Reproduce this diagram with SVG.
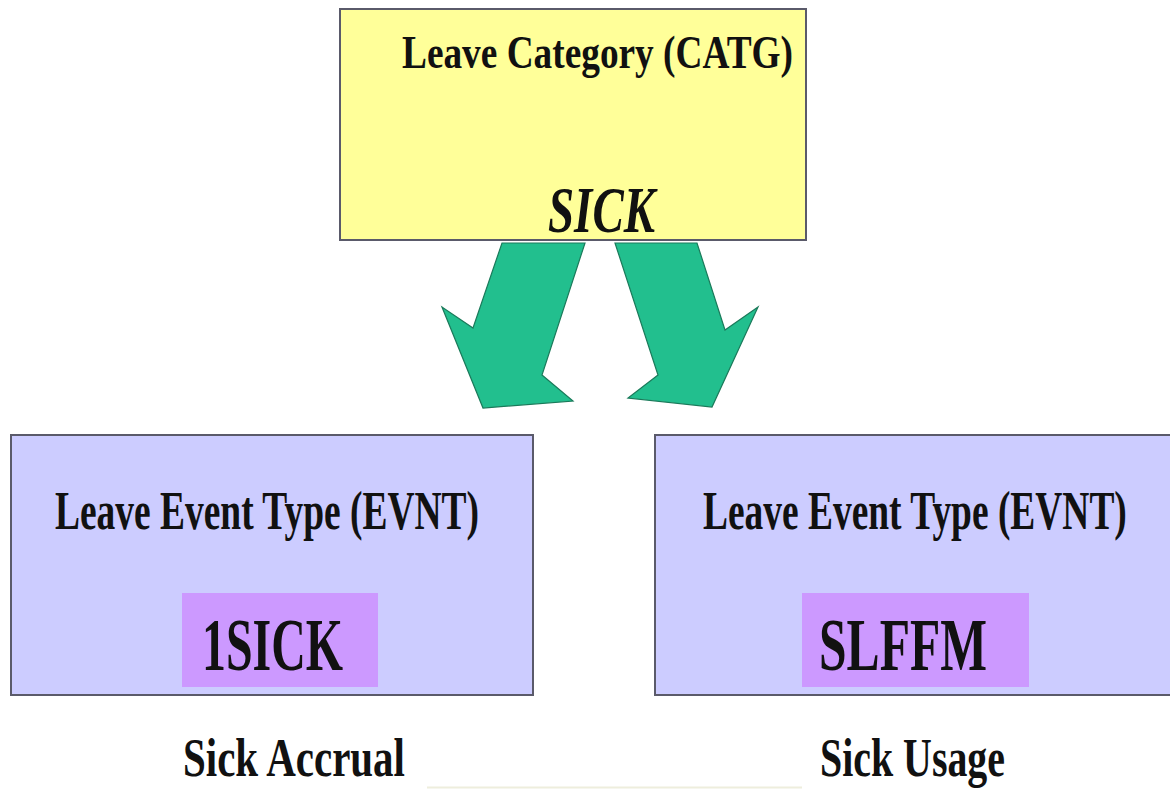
<svg xmlns="http://www.w3.org/2000/svg" width="1170" height="790" viewBox="0 0 1170 790">
  <style>
    .box { stroke: #5a5a6a; stroke-width: 2; }
    .t { font-family: "Liberation Serif", "Times New Roman", serif; font-weight: bold; fill: #111; }
    .arrow { fill: #22bf8e; stroke: #1a7a5a; stroke-width: 1.2; stroke-linejoin: miter; }
  </style>
  <rect width="1170" height="790" fill="#ffffff"/>
  <line x1="427" y1="787.5" x2="802" y2="787.5" stroke="#eeeedd" stroke-width="2"/>

  <g id="category">
    <rect class="box" x="340" y="9" width="466" height="231" fill="#ffff99"/>
    <text class="t" x="402" y="68" font-size="47" textLength="391" lengthAdjust="spacingAndGlyphs">Leave Category (CATG)</text>
    <text class="t" x="548" y="232" font-size="66" font-style="italic" textLength="107" lengthAdjust="spacingAndGlyphs">SICK</text>
  </g>

  <g id="connectors">
    <polygon class="arrow" points="502,243 585,243 542,375 573,401 483,408 442,307 473,328"/>
    <polygon class="arrow" points="615,243 697,243 725,330 758,307 712,407 628,398 658,375"/>
  </g>

  <g id="accrual">
    <rect class="box" x="11" y="435" width="522" height="260" fill="#ccccff"/>
    <text class="t" x="55" y="529" font-size="54" textLength="424" lengthAdjust="spacingAndGlyphs">Leave Event Type (EVNT)</text>
    <rect x="182" y="593" width="196" height="94" fill="#cc99ff"/>
    <text class="t" x="202" y="670" font-size="73" font-weight="normal" textLength="141" lengthAdjust="spacingAndGlyphs">1SICK</text>
  </g>

  <g id="usage">
    <rect class="box" x="655" y="435" width="516" height="260" fill="#ccccff"/>
    <text class="t" transform="translate(703,529) scale(0.688,1)" x="0" y="0" font-size="54" textLength="616" lengthAdjust="spacingAndGlyphs">Leave Event Type (EVNT)</text>
    <rect x="802" y="593" width="227" height="94" fill="#cc99ff"/>
    <text class="t" x="819" y="670" font-size="73" font-weight="normal" textLength="168" lengthAdjust="spacingAndGlyphs">SLFFM</text>
  </g>

  <g id="labels">
    <text class="t" x="183" y="776" font-size="54" textLength="222" lengthAdjust="spacingAndGlyphs">Sick Accrual</text>
    <text class="t" x="820" y="776" font-size="54" textLength="185" lengthAdjust="spacingAndGlyphs">Sick Usage</text>
  </g>
</svg>
